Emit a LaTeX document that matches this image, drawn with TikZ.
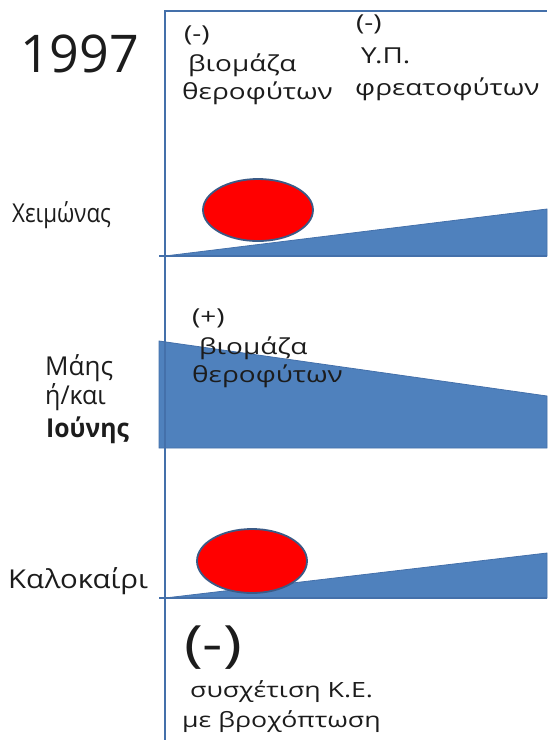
\documentclass[tikz,border=0pt]{standalone}
\usepackage{fontspec}
\usetikzlibrary{shapes.geometric}
\setmainfont{Open Sans}
\newfontfamily\widefont{Open Sans}[FakeStretch=1.27]
\definecolor{bfill}{HTML}{4F81BD}
\definecolor{bline}{HTML}{4470AA}
\definecolor{eline}{HTML}{3B5A86}
\definecolor{rfill}{HTML}{FF0000}
\definecolor{ink}{HTML}{1C1C1C}
\tikzset{
  frame/.style={draw=bline, line width=2.6pt},
  wedge/.style={fill=bfill, draw=bline, line width=0.8pt},
  blob/.style={ellipse, fill=rfill, draw=eline, line width=1.8pt, inner sep=0pt},
  lbl/.style={anchor=base west, inner sep=0pt, font=\widefont\fontsize{22}{26}\selectfont, text=ink},
  side/.style={anchor=base west, inner sep=0pt, font=\fontsize{26}{30}\selectfont, text=ink},
}
\begin{document}
\begin{tikzpicture}[x=1pt,y=-1pt]
\useasboundingbox (0,0) rectangle (547,740);
% frame
\coordinate (tl) at (165,11);
\coordinate (tr) at (547,11);
\coordinate (bl) at (165,740);
\coordinate (h1l) at (159,256);
\coordinate (h1r) at (547,256);
\coordinate (h2l) at (159,598);
\coordinate (h2r) at (547,598);
% row 1
\fill[wedge] (165,256) -- (547,209) -- (547,256) -- cycle;
\node[blob, minimum width=110pt, minimum height=62pt] (e1) at (258,210) {};
% row 2
\fill[wedge] (159,341) -- (547,396) -- (547,448) -- (159,448) -- cycle;
% row 3
\fill[wedge] (165,598) -- (547,553) -- (547,598) -- cycle;
\node[blob, minimum width=110pt, minimum height=64pt] (e3) at (252,561) {};
\draw[frame] (bl) -- (tl) -- (tr);
\draw[frame] (h1l) -- (h1r);
\draw[frame] (h2l) -- (h2r);
% left texts
\node[anchor=base west, inner sep=0pt, font=\fontsize{52}{56}\selectfont, text=ink] (yr) at (20,72) {1997};
\node[side] (w) at (12,222) {\scalebox{0.86}[1]{Χειμώνας}};
\node[side] (m1) at (45,375) {Μάης};
\node[side] (m2) at (45,404) {\scalebox{0.96}[1]{ή/και}};
\node[side, font=\fontsize{26}{30}\selectfont\bfseries] (m3) at (46,437) {\scalebox{0.95}[1]{Ιούνης}};
\node[side] (s) at (8,588) {\scalebox{1.13}[1]{Καλοκαίρι}};
% inner texts
\node[lbl] (a1) at (184,41) {(-)};
\node[lbl] (a2) at (188,71) {βιομάζα};
\node[lbl] (a3) at (182,99) {θεροφύτων};
\node[lbl] (b1) at (356,30) {(-)};
\node[lbl] (b2) at (361,63) {Υ.Π.};
\node[lbl] (b3) at (355,95) {φρεατοφύτων};
\node[lbl] (c1) at (192,324) {(+)};
\node[lbl] (c2) at (199,354) {βιομάζα};
\node[lbl] (c3) at (192,382) {θεροφύτων};
\node[anchor=base west, inner sep=0pt, font=\widefont\fontsize{50}{54}\selectfont, text=ink] (d1) at (184,661) {(-)};
\node[lbl, font=\widefont\fontsize{21}{25}\selectfont] (d2) at (190,697) {συσχέτιση Κ.Ε.};
\node[lbl, font=\widefont\fontsize{21}{25}\selectfont] (d3) at (182,727) {με βροχόπτωση};
\end{tikzpicture}
\end{document}
